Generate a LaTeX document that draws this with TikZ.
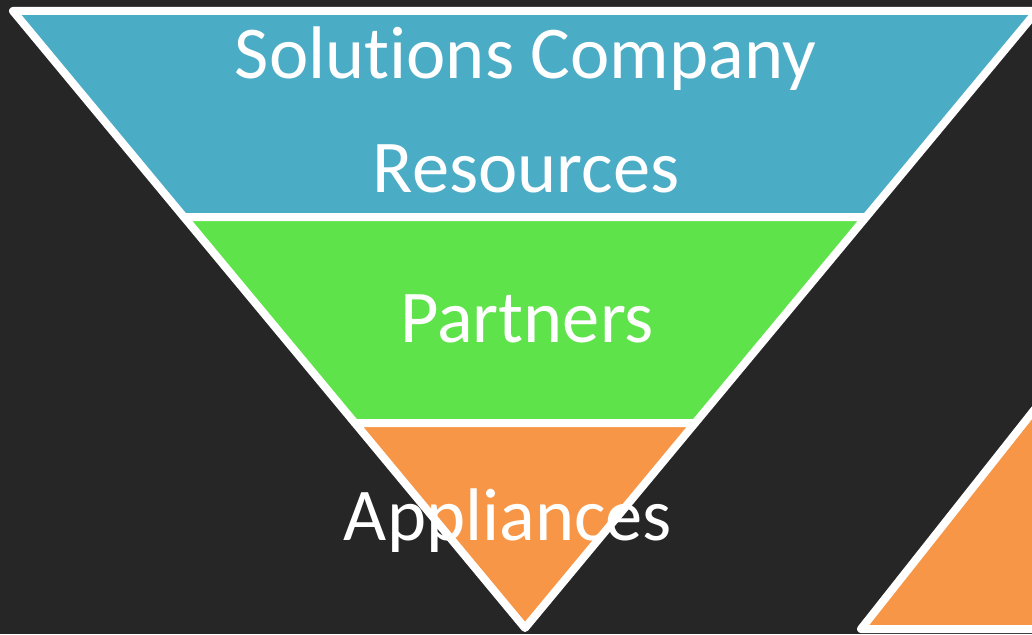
\documentclass[tikz,border=0pt]{standalone}
\usepackage{fontspec}
\setmainfont[Ligatures={NoCommon,NoRare}]{Carlito}
\definecolor{bgdark}{HTML}{262626}
\definecolor{tierblue}{HTML}{4BACC6}
\definecolor{tiergreen}{HTML}{5FE34A}
\definecolor{tierorange}{HTML}{F79646}
\begin{document}
\begin{tikzpicture}[x=1pt,y=-1pt,
  tier/.style={draw=white,line width=8pt,line join=round},
  label/.style={text=white,anchor=base,inner sep=0pt,font=\fontsize{74.5}{114}\selectfont}]
  % canvas
  \fill[bgdark] (0,0) rectangle (1032,634);
  \useasboundingbox (0,0) rectangle (1032,634);
  \clip (0,0) rectangle (1032,634);
  % funnel tiers, top to bottom
  \path[tier,fill=tierblue]   (13,11) -- (1037,11) -- (866.1,217) -- (183.9,217) -- cycle;
  \path[tier,fill=tiergreen]  (183.9,217) -- (866.1,217) -- (695.1,423) -- (354.9,423) -- cycle;
  \path[tier,fill=tierorange] (354.9,423) -- (695.1,423) -- (525,628) -- cycle;
  % neighbouring tier, mostly outside the canvas
  \path[tier,fill=tierorange] (861,629) -- (1061,376) -- (1260,629) -- cycle;
  % tier labels
  \node[label] (l1) at (525.5,78) {Solutions Company};
  \node[label] (l2) at (526,192) {Resources};
  \node[label] (l3) at (527,342) {Partners};
  \node[label] (l4) at (508,540) {Appliances};
\end{tikzpicture}
\end{document}
